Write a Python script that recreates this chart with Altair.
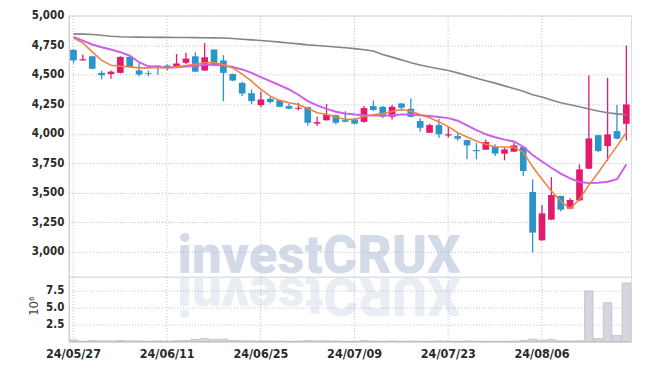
import altair as alt
import pandas as pd

dates = [
    "24/05/27", "24/05/28", "24/05/29", "24/05/30", "24/05/31",
    "24/06/03", "24/06/04", "24/06/05", "24/06/07", "24/06/10",
    "24/06/11", "24/06/12", "24/06/13", "24/06/14", "24/06/17",
    "24/06/18", "24/06/19", "24/06/20", "24/06/21", "24/06/24",
    "24/06/25", "24/06/26", "24/06/27", "24/06/28", "24/07/01",
    "24/07/02", "24/07/03", "24/07/04", "24/07/05", "24/07/08",
    "24/07/09", "24/07/10", "24/07/11", "24/07/12", "24/07/15",
    "24/07/16", "24/07/17", "24/07/18", "24/07/19", "24/07/22",
    "24/07/23", "24/07/24", "24/07/25", "24/07/26", "24/07/29",
    "24/07/30", "24/07/31", "24/08/01", "24/08/02", "24/08/05",
    "24/08/06", "24/08/07", "24/08/08", "24/08/09", "24/08/12",
    "24/08/13", "24/08/14", "24/08/16", "24/08/19", "24/08/20",
]
opens = [4710, 4620, 4655, 4515, 4505, 4515, 4650, 4535, 4512, 4577,
         4577, 4566, 4600, 4655, 4535, 4712, 4620, 4505, 4430, 4343,
         4242, 4296, 4282, 4234, 4211, 4225, 4085, 4115, 4157, 4115,
         4120, 4100, 4234, 4228, 4143, 4256, 4211, 4107, 4008, 4073,
         3985, 3980, 3946, 3862, 3865, 3890, 3831, 3848, 3887, 3507,
         3098, 3273, 3473, 3366, 3436, 3704, 3988, 3896, 4022, 4084]
highs = [4715, 4670, 4660, 4535, 4535, 4655, 4655, 4600, 4535, 4578,
         4585, 4675, 4685, 4690, 4768, 4715, 4665, 4510, 4440, 4375,
         4355, 4318, 4285, 4255, 4262, 4228, 4143, 4253, 4160, 4190,
         4135, 4234, 4282, 4234, 4242, 4258, 4298, 4130, 4084, 4126,
         4065, 4008, 3950, 3924, 3952, 3910, 3881, 3924, 3890, 3614,
         3397, 3633, 3475, 3453, 3741, 4495, 3990, 4473, 4242, 4746]
lows = [4595, 4620, 4545, 4460, 4465, 4510, 4560, 4485, 4487, 4500,
        4535, 4560, 4590, 4520, 4530, 4570, 4275, 4445, 4320, 4250,
        4225, 4255, 4225, 4208, 4197, 4070, 4065, 4110, 4078, 4098,
        4078, 4095, 4195, 4130, 4120, 4190, 4140, 4017, 4005, 3966,
        3966, 3940, 3783, 3783, 3862, 3811, 3775, 3845, 3642, 2995,
        3095, 3270, 3345, 3362, 3430, 3700, 3845, 3770, 3955, 3943]
closes = [4620, 4630, 4550, 4495, 4525, 4650, 4565, 4500, 4505, 4566,
          4560, 4594, 4636, 4525, 4647, 4577, 4515, 4450, 4340, 4276,
          4290, 4268, 4228, 4212, 4220, 4093, 4098, 4163, 4093, 4101,
          4085, 4217, 4200, 4145, 4228, 4220, 4143, 4050, 4073, 3995,
          3995, 3958, 3901, 3852, 3930, 3832, 3867, 3901, 3684, 3163,
          3326, 3481, 3357, 3439, 3698, 3960, 3853, 3994, 3958, 4248]
ma_short = [4811, 4768, 4692, 4620, 4580, 4571, 4566, 4557, 4557, 4560,
            4557, 4566, 4577, 4588, 4600, 4600, 4586, 4557, 4505, 4445,
            4375, 4318, 4282, 4262, 4248, 4214, 4177, 4163, 4141, 4121,
            4121, 4145, 4160, 4170, 4188, 4205, 4191, 4163, 4135, 4100,
            4060, 4008, 3972, 3938, 3910, 3890, 3887, 3885, 3845, 3720,
            3615, 3515, 3430, 3365, 3445, 3565, 3670, 3785, 3895, 4010]
ma_mid = [4818, 4788, 4755, 4732, 4712, 4690, 4660, 4605, 4570, 4566,
          4558, 4563, 4568, 4574, 4584, 4584, 4578, 4565, 4544, 4515,
          4479, 4445, 4410, 4375, 4330, 4276, 4240, 4210, 4186, 4172,
          4163, 4157, 4155, 4155, 4157, 4163, 4163, 4157, 4149, 4141,
          4132, 4110, 4070, 4030, 3995, 3970, 3950, 3935, 3890, 3820,
          3765, 3712, 3662, 3622, 3592, 3582, 3586, 3594, 3615, 3740]
ma_long = [4845, 4843, 4840, 4833, 4825, 4820, 4818, 4817, 4816, 4815,
           4815, 4814, 4814, 4813, 4812, 4811, 4810, 4806, 4800, 4794,
           4789, 4782, 4775, 4768, 4760, 4752, 4746, 4740, 4734, 4727,
           4720, 4710, 4700, 4670, 4648, 4625, 4600, 4582, 4565, 4550,
           4535, 4515, 4492, 4470, 4449, 4428, 4405, 4383, 4360, 4330,
           4310, 4285, 4262, 4245, 4228, 4210, 4192, 4178, 4168, 4160]
volume_m = [0.25, 0.05, 0.15, 0.10, 0.10, 0.15, 0.10, 0.10, 0.05, 0.10,
            0.05, 0.12, 0.15, 0.30, 0.45, 0.30, 0.35, 0.15, 0.12, 0.10,
            0.08, 0.10, 0.08, 0.05, 0.08, 0.15, 0.10, 0.12, 0.08, 0.05,
            0.05, 0.15, 0.08, 0.05, 0.08, 0.05, 0.08, 0.05, 0.06, 0.10,
            0.05, 0.05, 0.10, 0.05, 0.05, 0.04, 0.05, 0.06, 0.15, 0.35,
            0.20, 0.30, 0.10, 0.08, 0.12, 7.40, 0.45, 5.70, 0.90, 8.60]
tick_dates = ["24/05/27", "24/06/11", "24/06/25", "24/07/09", "24/07/23", "24/08/06"]
price_ticks = [3000, 3250, 3500, 3750, 4000, 4250, 4500, 4750, 5000]
volume_ticks = [2.5, 5.0, 7.5]
watermark = "investCRUX"

df = pd.DataFrame({
    "date": dates, "open": opens, "high": highs, "low": lows, "close": closes,
    "ma5": ma_short, "ma20": ma_mid, "ma60": ma_long, "vol": volume_m,
})
df["dir"] = ["up" if c >= o else "down" for o, c in zip(opens, closes)]

W = 564
RED = "#e31b6d"
BLUE = "#2b95c9"
GRID = "#b8bcd4"
LABEL_FONT = "DejaVu Sans Condensed"
WM_FONT = "Roboto"
WM_WEIGHT = 900
WM_SIZE = 53

xscale = alt.Scale(paddingInner=0, paddingOuter=0)
color = alt.Color("dir:N", scale=alt.Scale(domain=["up", "down"], range=[RED, BLUE]), legend=None)

x_top = alt.X("date:O", sort=None, scale=xscale, title=None,
              axis=alt.Axis(values=tick_dates, labels=False, ticks=False, domain=False,
                            grid=True, gridColor=GRID, gridDash=[1, 2]))
price_axis = alt.Axis(values=price_ticks, format=",d", ticks=False, labelPadding=5,
                      labelOverlap=False,
                      grid=True, gridColor=GRID, gridDash=[1, 2],
                      labelFont=LABEL_FONT, labelFontSize=11.5, labelFontWeight="bold",
                      labelColor="#2a2a2a",
                      domainColor="#c4c4cc", minExtent=36, maxExtent=36)
price_scale = alt.Scale(domain=[2790, 5000], nice=False, zero=False)


def ypos(field):
    return alt.Y(field, type="quantitative", scale=price_scale, axis=price_axis, title=None)


base = alt.Chart(df)

wm = alt.Chart(pd.DataFrame({"t": [watermark]})).mark_text(
    font=WM_FONT, fontWeight=WM_WEIGHT, fontSize=WM_SIZE, align="left", baseline="alphabetic",
    color="#9fb0d0", opacity=0.45
).encode(text="t:N", x=alt.value(109), y=alt.value(258))

wick = base.mark_rule(strokeWidth=1.3).encode(x=x_top, y=ypos("low"), y2="high:Q", color=color)
body = base.mark_bar(size=6.7).encode(x=x_top, y=ypos("open"), y2="close:Q", color=color)
l5 = base.mark_line(color="#ee8344", strokeWidth=1.6).encode(x=x_top, y=ypos("ma5"))
l20 = base.mark_line(color="#cc5fe8", strokeWidth=2).encode(x=x_top, y=ypos("ma20"))
l60 = base.mark_line(color="#858585", strokeWidth=1.6).encode(x=x_top, y=ypos("ma60"))

price = alt.layer(wm, wick, body, l60, l20, l5).properties(width=W, height=262)

# reflection of the watermark (each letter flipped)
char_w = [0.27, 0.57, 0.51, 0.54, 0.53, 0.34, 0.66, 0.64, 0.66, 0.65]
refl_layers = []
cx = 109.0
for ch, w in zip(watermark, char_w):
    adv = w * WM_SIZE
    center = cx + adv / 2
    if ch == "C":
        m = alt.Chart(pd.DataFrame({"t": [ch]})).mark_text(
            font=WM_FONT, fontWeight=WM_WEIGHT, fontSize=WM_SIZE, align="center", baseline="top",
            color="#9fb0d0", opacity=0.22).encode(text="t:N", x=alt.value(center), y=alt.value(-3))
    else:
        m = alt.Chart(pd.DataFrame({"t": [ch]})).mark_text(
            font=WM_FONT, fontWeight=WM_WEIGHT, fontSize=WM_SIZE, align="center", baseline="alphabetic",
            angle=180, color="#9fb0d0", opacity=0.22).encode(text="t:N", x=alt.value(center), y=alt.value(1))
    refl_layers.append(m)
    cx += adv

x_bot = alt.X("date:O", sort=None, scale=xscale, title=None,
              axis=alt.Axis(values=tick_dates, labelAngle=0, ticks=False, labelPadding=6,
                            grid=True, gridColor=GRID, gridDash=[1, 2],
                            labelFont=LABEL_FONT, labelFontSize=12.5, labelFontWeight="bold",
                            labelColor="#2a2a2a",
                            domainColor="#c4c4cc"))
vbars = base.mark_bar(size=8.6, color="#d6d6de", stroke="#b4b4bc", strokeWidth=0.6).encode(
    x=x_bot,
    y=alt.Y("vol:Q", scale=alt.Scale(domain=[0, 9.5], nice=False), title="10⁶",
            axis=alt.Axis(values=volume_ticks, format=".1f", ticks=False, labelPadding=5,
                          labelOverlap=False,
                          grid=True, gridColor=GRID, gridDash=[1, 2],
                          labelFont=LABEL_FONT, labelFontSize=11.5, labelFontWeight="bold",
                          labelColor="#2a2a2a",
                          titleFont=LABEL_FONT, titleFontSize=13, titleFontWeight="normal",
                          titleColor="#444", titleX=-28, titleY=29,
                          domainColor="#c4c4cc", minExtent=36, maxExtent=36)),
)
volume = alt.layer(*refl_layers, vbars).properties(width=W, height=65)

chart = alt.vconcat(price, volume, spacing=0, bounds="flush").properties(
    padding={"left": 19, "top": 0, "right": 5, "bottom": 5}
).configure_view(stroke="#d4d4dc").configure(background="white")

chart.save("out.html", embed_options={"renderer": "svg", "actions": False})
